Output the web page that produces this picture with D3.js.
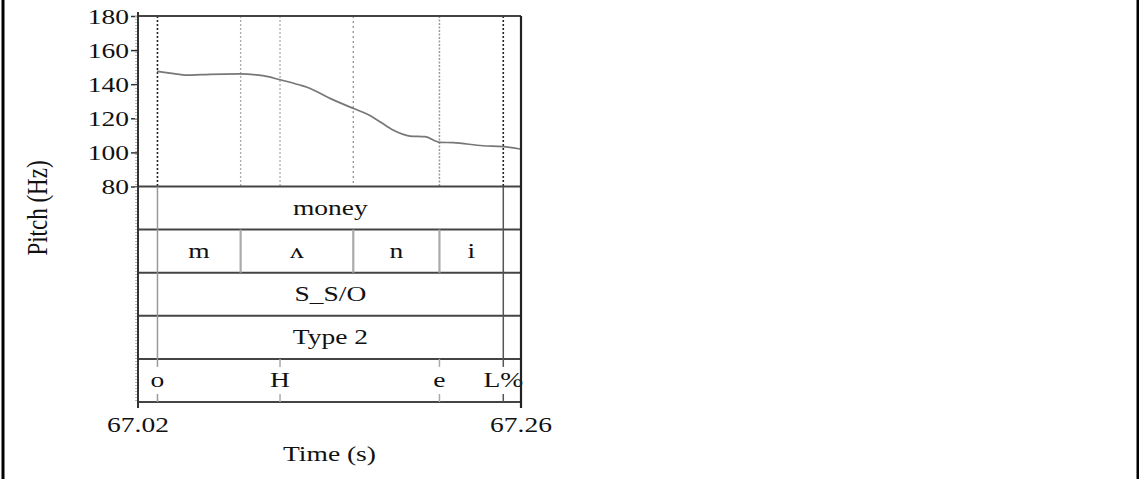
<!DOCTYPE html>
<html>
<head>
<meta charset="utf-8">
<script src="https://cdn.jsdelivr.net/npm/d3@7"></script>
<style>
  html, body { margin: 0; padding: 0; background: #fff; }
  svg { display: block; }
  text { font-family: "Liberation Serif", "DejaVu Serif", serif; fill: #111; }
</style>
</head>
<body>
<svg id="chart" width="1139" height="479"></svg>
<script>
// Pitch track (s, Hz)
const pitchTimes = [67.0319, 67.0400, 67.0513, 67.0651, 67.0839, 67.0983, 67.1090, 67.1215,
  67.1259, 67.1403, 67.1547, 67.1635, 67.1716, 67.1798, 67.1904, 67.1998, 67.2092, 67.2174,
  67.2362, 67.2487, 67.2594];
const pitchHz = [147.5, 146.5, 145.3, 145.8, 146.0, 145.0, 142.6, 139.5,
  138.2, 131.7, 125.9, 122.5, 118.0, 113.1, 109.6, 109.2, 105.9, 105.7,
  103.9, 103.4, 102.0];

// Axis ticks
const pitchTicks = [80, 100, 120, 140, 160, 180];
const timeTicks = [67.02, 67.26];
const timeTickLabels = ["67.02", "67.26"];

// Annotation tiers
const wordStarts = [67.0322];
const wordEnds = [67.2489];
const wordLabels = ["money"];

const phoneBounds = [67.0322, 67.0843, 67.1549, 67.2089, 67.2489];
const phoneLabels = ["m", "\u028C", "n", "i"];

const syllLabels = ["S_S/O"];
const typeLabels = ["Type 2"];

const toneTimes = [67.0322, 67.1090, 67.2089, 67.2489];
const toneLabels = ["o", "H", "e", "L%"];

const FONT = 22;      // label size
const WIDEN = 1.25;   // horizontal widening of the serif labels

const svg = d3.select("#chart");

// Page frame (left and right rules)
svg.append("line").attr("x1", 3).attr("x2", 3).attr("y1", 0).attr("y2", 479)
  .attr("stroke", "#000").attr("stroke-width", 3);
svg.append("line").attr("x1", 1138).attr("x2", 1138).attr("y1", 0).attr("y2", 479)
  .attr("stroke", "#000").attr("stroke-width", 3);

const x = d3.scaleLinear().domain([67.02, 67.26]).range([138, 521]);
const y = d3.scaleLinear().domain([80, 180]).range([186.5, 16]);
const tierY = d3.scaleLinear().domain([0, 5]).range([186.5, 402]);

const tierLine = "#444";

// Places a widened text label with its anchor at (px, py)
function label(parent, px, py, str, anchor, size) {
  return parent.append("text")
    .attr("transform", `translate(${px},${py}) scale(${WIDEN},1)`)
    .attr("text-anchor", anchor || "middle")
    .attr("font-size", size || FONT)
    .text(str);
}

// Boundary guides in the pitch panel
const pitchGuides = [
  {t: toneTimes[0], c: "#222", w: 1.6, d: "2,2"},
  {t: phoneBounds[1], c: "#aaa", w: 1.3, d: "2,2"},
  {t: toneTimes[1], c: "#aaa", w: 1.3, d: "2,2"},
  {t: phoneBounds[2], c: "#888", w: 1.2, d: "2,3"},
  {t: phoneBounds[3], c: "#999", w: 1.5, d: "2,1.5"},
  {t: toneTimes[3], c: "#222", w: 1.6, d: "2,2"}
];
svg.append("g").selectAll("line").data(pitchGuides).join("line")
  .attr("x1", d => x(d.t)).attr("x2", d => x(d.t))
  .attr("y1", y(180)).attr("y2", y(80))
  .attr("stroke", d => d.c).attr("stroke-width", d => d.w)
  .attr("stroke-dasharray", d => d.d);

// Pitch contour
const line = d3.line().x((d, i) => x(pitchTimes[i])).y(d => y(d)).curve(d3.curveMonotoneX);
svg.append("path").datum(pitchHz)
  .attr("d", line).attr("fill", "none")
  .attr("stroke", "#777").attr("stroke-width", 1.7);

// Tier horizontal rules
svg.append("g").selectAll("line").data(d3.range(6)).join("line")
  .attr("x1", x(67.02)).attr("x2", x(67.26))
  .attr("y1", d => tierY(d)).attr("y2", d => tierY(d))
  .attr("stroke", tierLine).attr("stroke-width", 2);

// Frame top
svg.append("line").attr("x1", x(67.02)).attr("x2", x(67.26))
  .attr("y1", y(180)).attr("y2", y(180))
  .attr("stroke", tierLine).attr("stroke-width", 2);

// Interval boundaries for the word / phone / syllable / type tiers
function intervalBounds(tier, times, colorFn, widthFn) {
  svg.append("g").selectAll("line").data(times).join("line")
    .attr("x1", d => x(d)).attr("x2", d => x(d))
    .attr("y1", tierY(tier)).attr("y2", tierY(tier + 1))
    .attr("stroke", colorFn).attr("stroke-width", widthFn);
}
const edgeColor = (d, i) => i === 0 ? "#999" : "#555";
intervalBounds(0, [wordStarts[0], wordEnds[0]], edgeColor, 1.5);
intervalBounds(1, phoneBounds, (d, i) => (i === 0 ? "#999" : i === phoneBounds.length - 1 ? "#555" : "#aaa"),
  (d, i) => (i === 0 || i === phoneBounds.length - 1) ? 1.5 : 2.2);
intervalBounds(2, [wordStarts[0], wordEnds[0]], edgeColor, 1.5);
intervalBounds(3, [wordStarts[0], wordEnds[0]], edgeColor, 1.5);

// Point tier: short ticks at top and bottom of the tone tier
const toneColor = (d, i) => (i === 0 ? "#999" : i === 3 ? "#555" : "#aaa");
svg.append("g").selectAll("line").data(toneTimes).join("line")
  .attr("x1", d => x(d)).attr("x2", d => x(d))
  .attr("y1", tierY(4)).attr("y2", tierY(4) + 8)
  .attr("stroke", toneColor).attr("stroke-width", 1.5);
svg.append("g").selectAll("line").data(toneTimes).join("line")
  .attr("x1", d => x(d)).attr("x2", d => x(d))
  .attr("y1", tierY(5) - 8).attr("y2", tierY(5))
  .attr("stroke", toneColor).attr("stroke-width", 1.5);

// Tier labels
const tierMid = i => (tierY(i) + tierY(i + 1)) / 2;
const gLabels = svg.append("g");
function tierText(tier, xs, labels) {
  labels.forEach((d, i) => label(gLabels, xs[i], tierMid(tier) + 7, d));
}
const wordMid = (x(wordStarts[0]) + x(wordEnds[0])) / 2;
tierText(0, [wordMid], wordLabels);
tierText(1, phoneLabels.map((d, i) => (x(phoneBounds[i]) + x(phoneBounds[i + 1])) / 2), phoneLabels);
tierText(2, [wordMid], syllLabels);
tierText(3, [wordMid], typeLabels);
tierText(4, toneTimes.map(t => x(t)), toneLabels);

// Y axis ticks (marks through d3.axisLeft, labels widened)
const yAxis = d3.axisLeft(y).tickValues(pitchTicks).tickSize(7).tickFormat("");
const gy = svg.append("g").attr("transform", `translate(${x(67.02)},0)`).call(yAxis);
gy.select(".domain").remove();
gy.selectAll(".tick line").attr("stroke", "#333").attr("stroke-width", 1.5);
const gyl = svg.append("g");
pitchTicks.forEach(v => label(gyl, x(67.02) - 9, y(v) + 7.5, String(v), "end"));

// Fine ruler hatching beside the left axis
svg.append("line").attr("x1", x(67.02) - 2).attr("x2", x(67.02) - 2)
  .attr("y1", y(180)).attr("y2", tierY(5))
  .attr("stroke", "#bbb").attr("stroke-width", 2).attr("stroke-dasharray", "1,2");

// Left axis line and right frame, both running down past the bottom rule
svg.append("line").attr("x1", x(67.02)).attr("x2", x(67.02))
  .attr("y1", y(180) - 4).attr("y2", tierY(5) + 6)
  .attr("stroke", "#333").attr("stroke-width", 2);
svg.append("line").attr("x1", x(67.26)).attr("x2", x(67.26))
  .attr("y1", y(180)).attr("y2", tierY(5) + 6)
  .attr("stroke", "#222").attr("stroke-width", 2.2);

// X axis labels
const gx = svg.append("g");
timeTicks.forEach((t, i) => label(gx, x(t), 432, timeTickLabels[i]));
label(gx, (x(67.02) + x(67.26)) / 2, 461, "Time (s)");

// Y axis title
svg.append("text")
  .attr("transform", `translate(47, 208) scale(${WIDEN},1) rotate(-90)`)
  .attr("text-anchor", "middle").attr("font-size", FONT + 1).text("Pitch (Hz)");
</script>
</body>
</html>
